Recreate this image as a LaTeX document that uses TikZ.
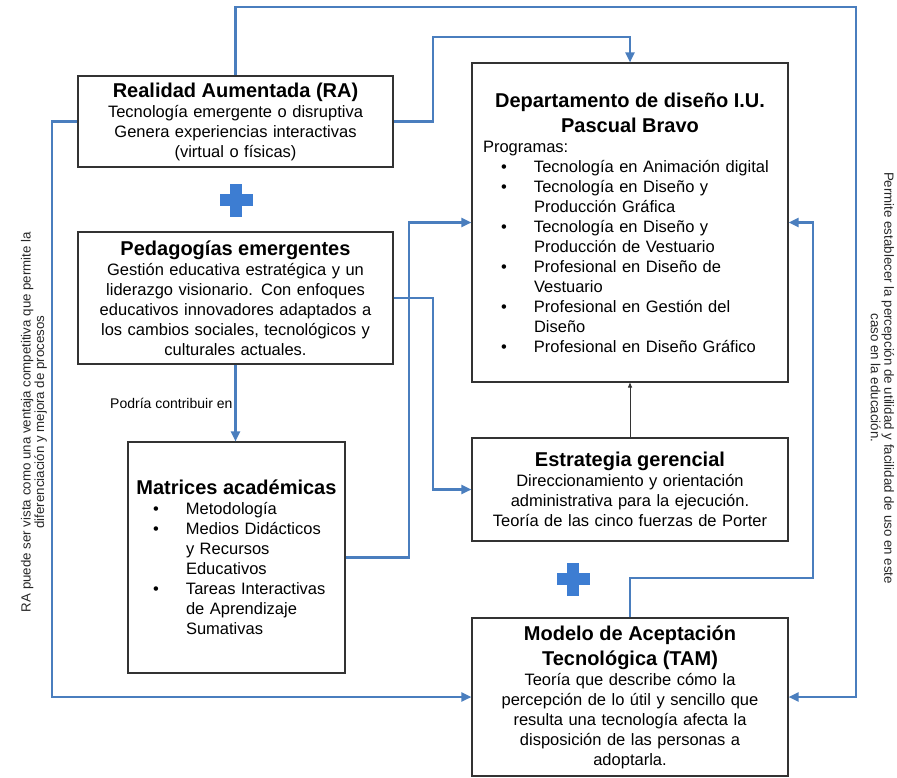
\documentclass[tikz,border=0pt]{standalone}
\usepackage{fontspec}
\setmainfont{Liberation Sans}
\usepackage{tikz}
\usetikzlibrary{arrows.meta}
\usepackage{xcolor}
\definecolor{linkblue}{RGB}{74,126,190}
\definecolor{plusblue}{RGB}{61,125,210}
\newcommand\boxtitle{\fontsize{20}{25}\selectfont\bfseries}
\newcommand\boxbody{\fontsize{16.5}{20}\selectfont}
\newcommand\sidenote{\fontsize{13.3}{13.5}\selectfont}
\newcommand\listitem[1]{\par\hangindent=51pt\hangafter=1\noindent\makebox[51pt][l]{\hspace{18pt}\textbullet}#1}

\begin{document}
\begin{tikzpicture}
        [x=1pt, y=-1pt,
        box/.style = {draw=black!80, line width=1.1pt, fill=white, inner xsep=11pt, inner ysep=4pt, font=\boxbody},
        lines/.style = {draw=linkblue, line width=2.2pt, -{Triangle[length=10pt, width=9pt]}},
        thinline/.style = {draw=black!80, line width=0.9pt, -{Triangle[length=5pt, width=4pt]}},
        note/.style = {font=\sidenote, align=center, text=black!85},
        plussign/.pic = {\fill[plusblue] (-16.5,-6) rectangle (16.5,6);
                         \fill[plusblue] (-6,-16.5) rectangle (6,16.5);}]
        \useasboundingbox (0,0) rectangle (897,777);

        \node[box, text width=293, minimum height=91] (RA) at (235.5,121.5)
            {\centering{\boxtitle Realidad Aumentada (RA)\par}
             Tecnología emergente o disruptiva\\Genera experiencias interactivas\\(virtual o físicas)\par};
        \node[box, text width=293, minimum height=132] (PE) at (235.5,298)
            {\centering{\boxtitle Pedagogías emergentes\par}
             Gestión educativa estratégica y un\\liderazgo visionario. Con enfoques\\educativos innovadores adaptados a\\los cambios sociales, tecnológicos y\\culturales actuales.\par};
        \node[box, inner xsep=7pt, text width=203, minimum height=231] (MA) at (236.5,557.5)
            {{\centering\boxtitle Matrices académicas\par}
             \raggedright
             \listitem{Metodología}
             \listitem{Medios Didácticos\newline y Recursos\newline Educativos}
             \listitem{Tareas Interactivas\newline de Aprendizaje\newline Sumativas}\par};

        \node[box, text width=294, minimum height=319] (DD) at (630,222.5)
            {{\centering\boxtitle Departamento de diseño I.U.\\Pascual Bravo\par}
             \raggedright Programas:
             \listitem{Tecnología en Animación digital}
             \listitem{Tecnología en Diseño y\newline Producción Gráfica}
             \listitem{Tecnología en Diseño y\newline Producción de Vestuario}
             \listitem{Profesional en Diseño de\newline Vestuario}
             \listitem{Profesional en Gestión del\newline Diseño}
             \listitem{Profesional en Diseño Gráfico}\par};
        \node[box, text width=294, minimum height=103] (EG) at (630,489.5)
            {\centering{\boxtitle Estrategia gerencial\par}
             Direccionamiento y orientación\\administrativa para la ejecución.\\Teoría de las cinco fuerzas de Porter\par};
        \node[box, text width=294, minimum height=158] (TAM) at (630,697)
            {\centering{\boxtitle Modelo de Aceptación\\Tecnológica (TAM)\par}
             Teoría que describe cómo la\\percepción de lo útil y sencillo que\\resulta una tecnología afecta la\\disposición de las personas a\\adoptarla.\par};

        \pic at (236,200) {plussign};
        \pic at (573,579) {plussign};

        \node[note, rotate=90] (leftnote) at (34,422)
            {RA puede ser vista como una ventaja competitiva que permite la\\diferenciación y mejora de procesos};
        \node[note, rotate=-90] (rightnote) at (882.5,378)
            {Permite establecer la percepción de utilidad y facilidad de uso en este\\caso en la educación.};

        \coordinate (topbus) at (856,7);
        \coordinate (leftbus) at (52,697);
        \coordinate (rabus) at (433,37);
        \coordinate (pebus) at (433,400);
        \coordinate (mabus) at (409,400);
        \coordinate (tambus) at (813,578);

        \draw[lines] (RA.north) |- (topbus) |- (TAM.east);
        \draw[lines] (RA.east) -| (rabus) -| (DD.north);
        \draw[lines] (RA.west) -| (leftbus) -- (TAM.west);
        \draw[lines] (PE.south) -- node[left, font=\fontsize{14}{16}\selectfont, inner sep=2pt] {Podría contribuir en} (PE.south |- MA.north);
        \draw[lines] (PE.east) -| (pebus) |- (EG.west);
        \draw[lines] (MA.east) -| (mabus) |- (DD.west);
        \draw[thinline] (EG.north) -- (DD.south);
        \draw[lines] (TAM.north) |- (tambus) |- (DD.east);

    \end{tikzpicture}
\end{document}
